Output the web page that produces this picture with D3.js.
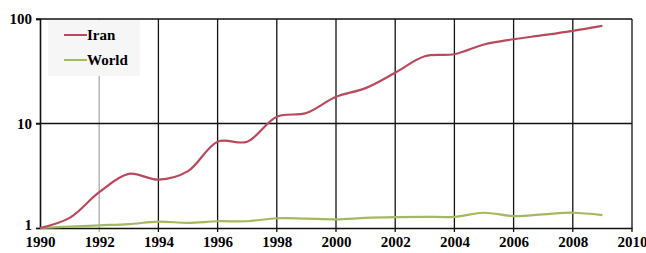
<!DOCTYPE html>
<html>
<head>
<meta charset="utf-8">
<script src="https://cdn.jsdelivr.net/npm/d3@7"></script>
<style>
  body { margin: 0; background: #fff; }
  text { font-family: "Liberation Serif", "DejaVu Serif", serif; font-weight: bold; }
</style>
</head>
<body>
<div id="chart"></div>
<script>
//! DATA
const YEARS = [1990, 1991, 1992, 1993, 1994, 1995, 1996, 1997, 1998, 1999,
  2000, 2001, 2002, 2003, 2004, 2005, 2006, 2007, 2008, 2009];
const IRAN = [1.0, 1.25, 2.2, 3.3, 2.9, 3.5, 6.7, 6.7, 11.6, 12.6,
  18.0, 21.8, 30.6, 44, 46, 57, 64, 70, 77, 86];
const WORLD = [1.0, 1.03, 1.06, 1.09, 1.15, 1.12, 1.16, 1.16, 1.24, 1.23,
  1.21, 1.25, 1.27, 1.28, 1.28, 1.4, 1.3, 1.35, 1.4, 1.33];
const X_TICKS = [1990, 1992, 1994, 1996, 1998, 2000, 2002, 2004, 2006, 2008, 2010];
const Y_TICKS = [1, 10, 100];
const SERIES = [
  { name: 'Iran', values: IRAN, color: '#b84a5e' },
  { name: 'World', values: WORLD, color: '#a3bb5c' }
];

//! CONSTS
const WIDTH = 646, HEIGHT = 253;
const M = { left: 40, right: 14, top: 19, bottom: 25 };

const svg = d3.select('#chart').append('svg')
  .attr('width', WIDTH)
  .attr('height', HEIGHT);

const x = d3.scaleLinear().domain([1990, 2010]).range([M.left, WIDTH - M.right]);
const y = d3.scaleLog().domain([1, 100]).range([HEIGHT - M.bottom, M.top]);

// grid
svg.append('g').selectAll('line')
  .data(X_TICKS.slice(1))
  .enter().append('line')
  .attr('x1', d => x(d)).attr('x2', d => x(d))
  .attr('y1', y(100)).attr('y2', y(1) + 4)
  .attr('stroke', d => d === 1992 ? '#aaa' : '#111')
  .attr('stroke-width', 1.3);

svg.append('g').selectAll('line')
  .data(Y_TICKS.slice(1))
  .enter().append('line')
  .attr('x1', x(1990) - 4).attr('x2', x(2010))
  .attr('y1', d => y(d)).attr('y2', d => y(d))
  .attr('stroke', '#111')
  .attr('stroke-width', 1.3);

// axes
const xAxis = svg.append('g')
  .attr('transform', `translate(0,${y(1)})`)
  .call(d3.axisBottom(x).tickValues(X_TICKS).tickFormat(d3.format('d')).tickSize(0).tickPadding(8));
const yAxis = svg.append('g')
  .attr('transform', `translate(${x(1990)},0)`)
  .call(d3.axisLeft(y).tickValues(Y_TICKS).tickFormat(d3.format('d')).tickSize(4).tickPadding(4));
[xAxis, yAxis].forEach(a => {
  a.select('.domain').attr('stroke', '#111').attr('stroke-width', 1.6);
  a.selectAll('.tick line').attr('stroke', '#111').attr('stroke-width', 1.3);
  a.selectAll('text').attr('fill', '#000').attr('font-size', 15)
    .attr('font-family', '"Liberation Serif", serif').attr('font-weight', 'bold');
});
yAxis.selectAll('.tick').filter(d => d === 1).select('text').attr('dy', '0.1em');

// lines
const line = d3.line()
  .x((d, i) => x(YEARS[i]))
  .y(d => y(d))
  .curve(d3.curveCatmullRom.alpha(0.5));

svg.append('g').selectAll('path')
  .data(SERIES.slice().reverse())
  .enter().append('path')
  .attr('d', d => line(d.values))
  .attr('fill', 'none')
  .attr('stroke', d => d.color)
  .attr('stroke-width', 2.2);

// legend
const legend = svg.append('g').attr('transform', 'translate(48,20)');
legend.append('rect')
  .attr('width', 92).attr('height', 56)
  .attr('fill', '#f6f6f6');
const items = legend.selectAll('g.item')
  .data(SERIES)
  .enter().append('g')
  .attr('transform', (d, i) => `translate(16,${15 + i * 25})`);
items.append('line')
  .attr('x1', 0).attr('x2', 23)
  .attr('stroke', d => d.color).attr('stroke-width', 2);
items.append('text')
  .attr('x', 23).attr('y', 5)
  .attr('font-size', 15)
  .text(d => d.name);
</script>
</body>
</html>
